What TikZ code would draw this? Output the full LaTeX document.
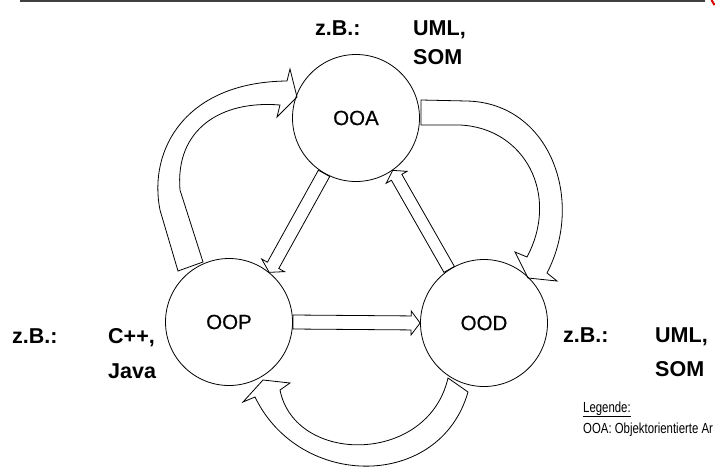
\documentclass[tikz,border=0pt]{standalone}
\usepackage{fontspec}
\setmainfont{Liberation Sans}
\newfontfamily\phasefont[FakeBold=0.5]{Liberation Sans}
\newfontfamily\legendfont[FakeStretch=0.78]{Liberation Sans}
\usetikzlibrary{calc}

\tikzset{
  phase/.style={circle, draw, line width=0.8pt, minimum size=127pt, inner sep=0pt,
                font=\fontsize{20.5}{24}\selectfont\phasefont},
  example/.style={anchor=base west, inner sep=0pt,
                  font=\fontsize{21.5}{25}\selectfont\bfseries},
  legend/.style={anchor=base west, inner sep=0pt,
                 font=\fontsize{14.6}{17}\selectfont\legendfont},
  blockarrow/.style={draw, line width=0.8pt, line join=miter},
}

% straight block arrow: start, tip, half shaft width, half head width, head length
\newcommand\straightblock[5]{%
  \path (#1) coordinate (ba-s) (#2) coordinate (ba-e);
  \path ($(ba-e)!#5!(ba-s)$) coordinate (ba-m);
  \draw[blockarrow]
    ($(ba-s)!#3!90:(ba-e)$) -- ($(ba-m)!#3!-90:(ba-s)$) -- ($(ba-m)!#4!-90:(ba-s)$)
    -- (ba-e)
    -- ($(ba-m)!#4!90:(ba-s)$) -- ($(ba-m)!#3!90:(ba-s)$) -- ($(ba-s)!#3!-90:(ba-e)$) -- cycle;
}

\begin{document}
\begin{tikzpicture}[x=1pt, y=-1pt]
\useasboundingbox (0,0) rectangle (715,467);

% header rule and corner mark
\draw[line width=1.5pt, black!75] (20,0.75) -- (705,0.75);
\draw[line width=2pt, red!85!black] (711.5,0) -- (714.5,5);

% the three phases
\node[phase] (ooa) at (356,118) {OOA};
\node[phase] (oop) at (229,322) {OOP};
\node[phase] (ood) at (484,323) {OOD};

% straight transitions
\straightblock{ooa.240}{oop.51}{6.5pt}{13pt}{8pt}
\straightblock{ood.123}{ooa.305}{6pt}{12pt}{8pt}
\straightblock{oop.east}{ood.west}{7pt}{12pt}{9pt}

% OOP -> OOA (left loop)
\draw[blockarrow] (178,271) -- (160,210) .. controls (148,150) and (185,82) .. (287,81)
  -- (290,69) -- (297,97) -- (277,117) -- (280,105)
  .. controls (220,100) and (175,130) .. (180,190) -- (203,262) -- cycle;

% OOA -> OOD (right loop)
\draw[blockarrow] (421,100) -- (467,101) .. controls (550,103) and (585,200) .. (547,273)
  -- (557,281) -- (528,278) -- (515,252) -- (527,257)
  .. controls (560,195) and (525,128) .. (460,125) -- (421,125) -- cycle;

% OOD -> OOP (bottom loop)
\draw[blockarrow] (468,392) .. controls (440,490) and (300,490) .. (255,397)
  -- (243,402) -- (263,380) -- (290,383) -- (280,390)
  .. controls (295,465) and (428,465) .. (448,378) -- cycle;

% examples
\node[example] (topzb)  at (315,35)  {z.B.:};
\node[example] (topuml) at (413,35)  {UML,};
\node[example] (topsom) at (413,64)  {SOM};

\node[example] (leftzb)   at (12,343)  {z.B.:};
\node[example] (leftcpp)  at (108,343) {C++,};
\node[example] (leftjava) at (108,378) {Java};

\node[example] (rightzb)  at (563,342) {z.B.:};
\node[example] (rightuml) at (655,342) {UML,};
\node[example] (rightsom) at (655,376) {SOM};

% legend
\node[legend] (leghead) at (583,412) {\underline{Legende:}};
\node[legend] (legooa)  at (583,433) {OOA: Objektorientierte Ar};
\end{tikzpicture}
\end{document}
